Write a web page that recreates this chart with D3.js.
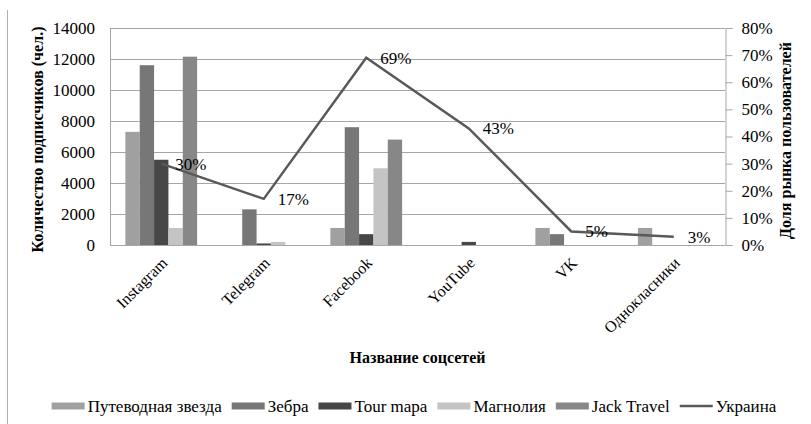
<!DOCTYPE html>
<html>
<head>
<meta charset="utf-8">
<script src="https://cdn.jsdelivr.net/npm/d3@7"></script>
</head>
<body style="margin:0; background:#fff">
<svg id="chart" width="811" height="424"></svg>
<script>
// Data
const categories = ["Instagram", "Telegram", "Facebook", "YouTube", "VK", "Однокласники"]
const seriesNames = ["Путеводная звезда", "Зебра", "Tour mapa", "Магнолия", "Jack Travel"]
const putevodnaya = [7300, 0, 1100, 0, 1100, 1100]
const zebra = [11600, 2300, 7600, 0, 700, 0]
const tourMapa = [5500, 100, 700, 200, 0, 0]
const magnoliya = [1100, 200, 4950, 0, 0, 0]
const jackTravel = [12150, 0, 6800, 0, 0, 0]
const ukraine = [0.30, 0.17, 0.69, 0.43, 0.05, 0.03]
const lineName = "Украина"
const leftTicks = [0, 2000, 4000, 6000, 8000, 10000, 12000, 14000]
const rightTicks = [0, 0.1, 0.2, 0.3, 0.4, 0.5, 0.6, 0.7, 0.8]

const barSeries = [putevodnaya, zebra, tourMapa, magnoliya, jackTravel]
const colors = ["#a0a0a0", "#777777", "#474747", "#c4c4c4", "#878787"]
const lineColor = "#595959"
const FONT = "Liberation Serif"

const svg = d3.select("#chart").attr("font-family", FONT)
const m = { left: 110, right: 725, top: 28, bottom: 245 }

// Scales
const x0 = d3.scaleBand().domain(categories).range([m.left, m.right])
  .paddingInner(0.3).paddingOuter(0.15)
const x1 = d3.scaleBand().domain(d3.range(seriesNames.length)).range([0, x0.bandwidth()])
const yL = d3.scaleLinear().domain([0, 14000]).range([m.bottom, m.top])
const yR = d3.scaleLinear().domain([0, 0.8]).range([m.bottom, m.top])
const xc = d3.scalePoint().domain(categories).range([m.left, m.right]).padding(0.5)

// Outer border (left side only visible)
svg.append("line").attr("x1", 7.5).attr("x2", 7.5).attr("y1", 10).attr("y2", 424)
  .attr("stroke", "#b0b0b0").attr("stroke-width", 1)

// Gridlines
svg.append("g")
  .selectAll("line")
  .data(leftTicks.slice(1))
  .enter()
  .append("line")
  .attr("x1", m.left).attr("x2", m.right)
  .attr("y1", (d) => Math.round(yL(d)) + 0.5).attr("y2", (d) => Math.round(yL(d)) + 0.5)
  .attr("stroke", "#a6a6a6")

// Bars
const groups = svg.append("g")
  .selectAll("g")
  .data(categories)
  .enter()
  .append("g")
  .attr("transform", (d) => `translate(${x0(d)},0)`)

groups.selectAll("rect")
  .data((d, i) => barSeries.map((s, k) => ({ k: k, v: s[i] })))
  .enter()
  .append("rect")
  .attr("x", (d) => x1(d.k))
  .attr("width", x1.bandwidth())
  .attr("y", (d) => yL(d.v))
  .attr("height", (d) => m.bottom - yL(d.v))
  .attr("fill", (d) => colors[d.k])

// Axis lines
svg.append("line").attr("x1", m.left + 0.5).attr("x2", m.left + 0.5)
  .attr("y1", m.top).attr("y2", m.bottom).attr("stroke", "#a6a6a6")
svg.append("line").attr("x1", m.left).attr("x2", m.right)
  .attr("y1", m.bottom + 0.5).attr("y2", m.bottom + 0.5).attr("stroke", "#a6a6a6")

// Left axis
const leftAxis = svg.append("g")
  .attr("transform", `translate(${m.left},0)`)
  .call(d3.axisLeft(yL).tickValues(leftTicks).tickSize(0).tickPadding(15).tickFormat(d3.format("d")))
leftAxis.select(".domain").remove()
leftAxis.attr("font-family", FONT).attr("font-size", 17)

// Right axis
const rightAxis = svg.append("g")
  .attr("transform", `translate(${m.right + 0.5},0)`)
  .call(d3.axisRight(yR).tickValues(rightTicks).tickSize(7).tickPadding(9).tickFormat(d3.format(".0%")))
rightAxis.select(".domain").attr("stroke", "#a6a6a6")
rightAxis.selectAll("line").attr("stroke", "#a6a6a6")
rightAxis.attr("font-family", FONT).attr("font-size", 17)

// X axis labels
svg.append("g")
  .selectAll("text")
  .data(categories)
  .enter()
  .append("text")
  .attr("transform", (d) => `translate(${xc(d) + 3},${m.bottom + 15}) rotate(-45)`)
  .attr("text-anchor", "end")
  .attr("dy", "0.35em")
  .attr("font-size", 16)
  .text((d) => d)

// Line series
const line = d3.line().x((d, i) => xc(categories[i])).y((d) => yR(d))
svg.append("path")
  .datum(ukraine)
  .attr("d", line)
  .attr("fill", "none")
  .attr("stroke", lineColor)
  .attr("stroke-width", 2.5)

svg.append("g")
  .selectAll("text")
  .data(ukraine)
  .enter()
  .append("text")
  .attr("x", (d, i) => xc(categories[i]) + 14)
  .attr("y", (d) => yR(d))
  .attr("dy", "0.35em")
  .attr("font-size", 17)
  .text((d) => d3.format(".0%")(d))

// Axis titles
svg.append("text")
  .attr("transform", `translate(43,${(m.top + m.bottom) / 2 + 3}) rotate(-90)`)
  .attr("text-anchor", "middle")
  .attr("font-size", 16).attr("font-weight", "bold")
  .text("Количество подписчиков (чел.)")

svg.append("text")
  .attr("transform", `translate(791,${(m.top + m.bottom) / 2 + 4}) rotate(-90)`)
  .attr("text-anchor", "middle")
  .attr("font-size", 16).attr("font-weight", "bold")
  .text("Доля рынка пользователей")

svg.append("text")
  .attr("x", (m.left + m.right) / 2)
  .attr("y", 363)
  .attr("text-anchor", "middle")
  .attr("font-size", 16).attr("font-weight", "bold")
  .text("Название соцсетей")

// Legend
const legendItems = seriesNames.map((n, k) => ({ name: n, color: colors[k], type: "bar" }))
  .concat([{ name: lineName, color: lineColor, type: "line" }])
const legend = svg.append("g")
let lx = 0
legendItems.forEach((item) => {
  const g = legend.append("g").attr("transform", `translate(${lx},0)`)
  if (item.type === "bar") {
    g.append("rect").attr("x", 0).attr("y", -3.5).attr("width", 33).attr("height", 7).attr("fill", item.color)
  } else {
    g.append("line").attr("x1", 0).attr("x2", 33).attr("y1", 0).attr("y2", 0)
      .attr("stroke", item.color).attr("stroke-width", 2.5)
  }
  const t = g.append("text").attr("x", 36).attr("dy", "0.35em")
    .attr("font-size", 17).text(item.name)
  lx += 36 + t.node().getComputedTextLength() + 10
})
const legendWidth = lx - 10
legend.attr("transform", `translate(${414 - legendWidth / 2},406)`)

svg.selectAll("text").attr("fill", "#000")
</script>
</body>
</html>
